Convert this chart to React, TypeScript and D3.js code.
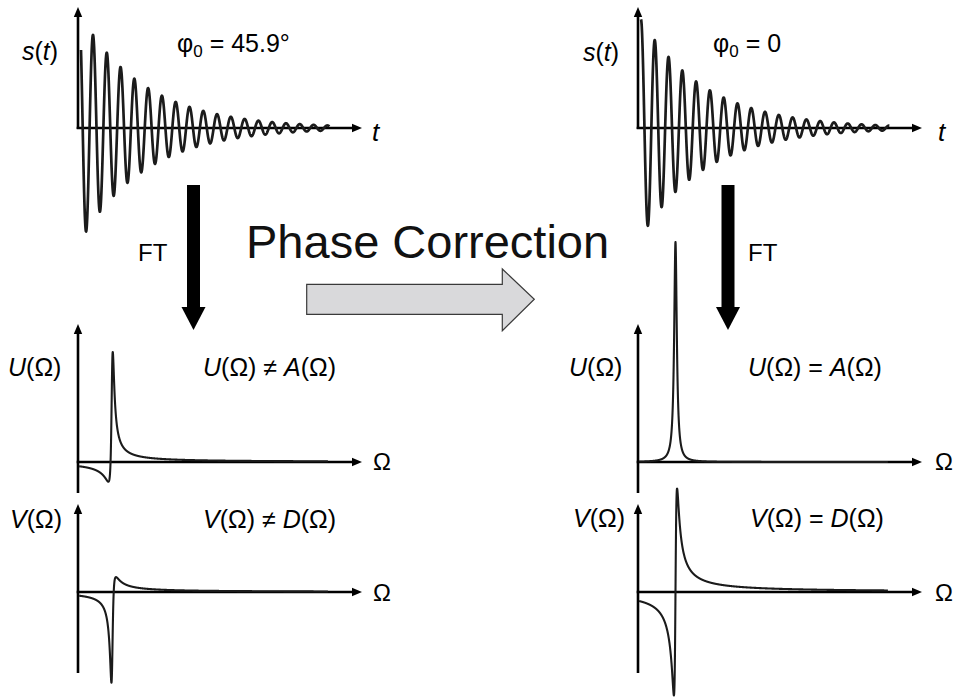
import React from "react";
import * as d3 from "d3";

const W = 960;
const H = 698;

// Left column: raw signal; right column: after zero-order phase correction
const columns = ["raw", "corrected"];
const phaseDeg = [45.9, 0];
const phaseLabels = ["45.9°", "0"];
const relationSymbols = ["≠", "="];

// Free induction decay: s(t) = a·exp(-t/T2)·cos(2πft + φ0)
const fidAmplitude = [1.0, 0.97];
const fidCycles = 20.6; // cycles per unit of the time axis
const fidDecay = 0.229; // T2 in units of the time axis
const fidSpan = [0.0106, 0.885];

// Complex Lorentzian line: U + iV = gain·(A + iD)·e^{iφ0}
const lineCenter = [0.12, 0.132];
const lineHalfWidth = 0.0056;
const uGain = [0.59, 1.0];
const vGain = [0.48, 0.94];
const spectrumSpan = [0.004, 0.88];

const FONT = "'Liberation Sans', Arial, Helvetica, sans-serif";
const INK = "#1b1b1b";

const AXIS_LEN = 284;
const colX = [78, 638];
const FID_Y = 128;
const U_Y = 462;
const V_Y = 592;

function arrowHead(x: number, y: number, dir: "right" | "up", len = 10, half = 4.2) {
  if (dir === "right") return `${x},${y} ${x - len},${y - half} ${x - len},${y + half}`;
  return `${x},${y} ${x - half},${y + len} ${x + half},${y + len}`;
}

function Axes({ x0, y0, yTop, yBottom }: { x0: number; y0: number; yTop: number; yBottom: number }) {
  const xEnd = x0 + AXIS_LEN;
  return (
    <g>
      <line x1={x0} y1={yBottom} x2={x0} y2={yTop + 8} stroke="#000" strokeWidth={2.6} />
      <polygon points={arrowHead(x0, yTop, "up")} fill="#000" />
      <line x1={x0 - 1.3} y1={y0} x2={xEnd - 8} y2={y0} stroke="#000" strokeWidth={2.6} />
      <polygon points={arrowHead(xEnd, y0, "right")} fill="#000" />
    </g>
  );
}

function Column({ i }: { i: number }) {
  const x0 = colX[i];
  const phi = (phaseDeg[i] * Math.PI) / 180;
  const c = Math.cos(phi);
  const s = Math.sin(phi);

  const xs = d3.scaleLinear().domain([0, 1]).range([x0, x0 + AXIS_LEN]);

  // time-domain signal
  const fidY = d3.scaleLinear().domain([-1, 1]).range([FID_Y + 112, FID_Y - 112]);
  const times = d3.range(0, 1601).map((k) => fidSpan[0] + ((fidSpan[1] - fidSpan[0]) * k) / 1600);
  const fid = times.map((t) => {
    const dt = t - fidSpan[0];
    return [t, fidAmplitude[i] * Math.exp(-dt / fidDecay) * Math.cos(2 * Math.PI * fidCycles * dt + phi)] as [number, number];
  });
  const fidLine = d3
    .line<[number, number]>()
    .x((d) => xs(d[0]))
    .y((d) => fidY(d[1]))
    .curve(d3.curveLinear);

  // frequency-domain real and imaginary parts
  const uY = d3.scaleLinear().domain([-1, 1]).range([U_Y + 220, U_Y - 220]);
  const vY = d3.scaleLinear().domain([-1, 1]).range([V_Y + 220, V_Y - 220]);
  const freqs = d3.range(0, 4001).map((k) => spectrumSpan[0] + ((spectrumSpan[1] - spectrumSpan[0]) * k) / 4000);
  const spec = freqs.map((w) => {
    const x = (w - lineCenter[i]) / lineHalfWidth;
    const A = 1 / (1 + x * x);
    const D = x / (1 + x * x);
    return { w, u: uGain[i] * (c * A + s * D), v: vGain[i] * (c * D - s * A) };
  });
  type P = { w: number; u: number; v: number };
  const uLine = d3.line<P>().x((d) => xs(d.w)).y((d) => uY(d.u));
  const vLine = d3.line<P>().x((d) => xs(d.w)).y((d) => vY(d.v));

  return (
    <g>
      <Axes x0={x0} y0={FID_Y} yTop={7} yBottom={FID_Y + 1} />
      <path d={fidLine(fid) || ""} fill="none" stroke={INK} strokeWidth={2.7} strokeLinejoin="round" />

      <Axes x0={x0} y0={U_Y} yTop={324} yBottom={493} />
      <path d={uLine(spec) || ""} fill="none" stroke={INK} strokeWidth={2.1} strokeLinejoin="round" />

      <Axes x0={x0} y0={V_Y} yTop={504} yBottom={673} />
      <path d={vLine(spec) || ""} fill="none" stroke={INK} strokeWidth={2.1} strokeLinejoin="round" />
    </g>
  );
}

function FuncLabel({ x, y, name, arg }: { x: number; y: number; name: string; arg: string }) {
  return (
    <text x={x} y={y} fontFamily={FONT} fontSize={25} fill="#000">
      <tspan fontStyle="italic">{name}</tspan>
      <tspan>(</tspan>
      <tspan fontStyle={arg === "t" ? "italic" : "normal"}>{arg}</tspan>
      <tspan>)</tspan>
    </text>
  );
}

function Relation({ x, y, a, b, rel }: { x: number; y: number; a: string; b: string; rel: string }) {
  return (
    <text x={x} y={y} fontFamily={FONT} fontSize={25} fill="#000">
      <tspan fontStyle="italic">{a}</tspan>
      <tspan>{`(Ω) ${rel} `}</tspan>
      <tspan fontStyle="italic">{b}</tspan>
      <tspan>(Ω)</tspan>
    </text>
  );
}

function PhaseLabel({ x, y, value }: { x: number; y: number; value: string }) {
  return (
    <text x={x} y={y} fontFamily={FONT} fontSize={25} fill="#000">
      <tspan>φ</tspan>
      <tspan fontSize={17} dy={5}>0</tspan>
      <tspan dy={-5}>{` = ${value}`}</tspan>
    </text>
  );
}

function FTArrow({ cx }: { cx: number }) {
  return (
    <g>
      <rect x={cx - 6.5} y={185} width={13} height={124} fill="#000" />
      <polygon points={`${cx - 12},307 ${cx + 12},307 ${cx},330`} fill="#000" />
    </g>
  );
}

export default function App() {
  return (
    <svg width={W} height={H} viewBox={`0 0 ${W} ${H}`} style={{ display: "block", position: "absolute", left: 0, top: 0, background: "#fff" }}>
      <rect width={W} height={H} fill="#fff" />
      {columns.map((_, i) => (
        <Column key={i} i={i} />
      ))}

      {/* axis titles */}
      <FuncLabel x={22} y={60} name="s" arg="t" />
      <FuncLabel x={583} y={61} name="s" arg="t" />
      <text x={372} y={141} fontFamily={FONT} fontSize={26} fontStyle="italic">t</text>
      <text x={938} y={141} fontFamily={FONT} fontSize={26} fontStyle="italic">t</text>

      <PhaseLabel x={177} y={52} value={phaseLabels[0]} />
      <PhaseLabel x={713} y={52} value={phaseLabels[1]} />

      <FuncLabel x={8} y={376} name="U" arg="Ω" />
      <FuncLabel x={569} y={376} name="U" arg="Ω" />
      <FuncLabel x={10} y={528} name="V" arg="Ω" />
      <FuncLabel x={573} y={527} name="V" arg="Ω" />

      <Relation x={203} y={376} a="U" b="A" rel={relationSymbols[0]} />
      <Relation x={748} y={376} a="U" b="A" rel={relationSymbols[1]} />
      <Relation x={203} y={528} a="V" b="D" rel={relationSymbols[0]} />
      <Relation x={750} y={527} a="V" b="D" rel={relationSymbols[1]} />

      {[470, 601].map((y) => (
        <g key={y}>
          <text x={373} y={y} fontFamily={FONT} fontSize={24}>Ω</text>
          <text x={935} y={y} fontFamily={FONT} fontSize={24}>Ω</text>
        </g>
      ))}

      {/* Fourier transform arrows */}
      <FTArrow cx={193.5} />
      <FTArrow cx={728} />
      <text x={138} y={261} fontFamily={FONT} fontSize={24}>FT</text>
      <text x={748} y={261} fontFamily={FONT} fontSize={24}>FT</text>

      {/* phase correction step */}
      <text x={246} y={258} fontFamily={FONT} fontSize={47} fill="#111">Phase Correction</text>
      <polygon
        points="306.7,284.3 502.3,284.3 502.3,269 534.3,299.3 502.3,330.7 502.3,314.3 306.7,314.3"
        fill="#d9d9db"
        stroke="#3a3a3a"
        strokeWidth={1.2}
        strokeLinejoin="miter"
      />
    </svg>
  );
}
